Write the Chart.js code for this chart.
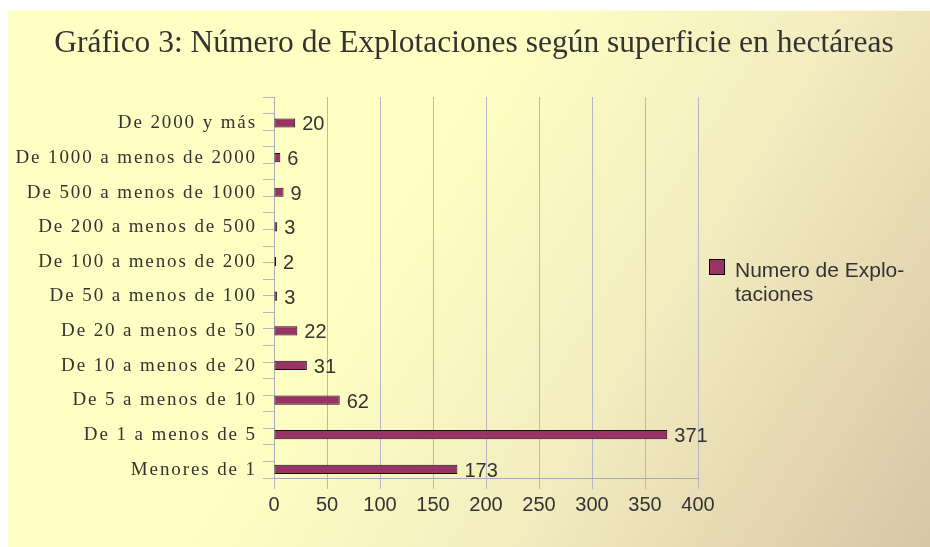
<!DOCTYPE html>
<html>
<head>
<meta charset="utf-8">
<script src="https://cdn.jsdelivr.net/npm/chart.js@4.4.1/dist/chart.umd.min.js"></script>
<style>
  html, body { margin: 0; padding: 0; background: #ffffff; overflow: hidden; }
  #wrap { position: relative; width: 930px; height: 547px; }
  #bg {
    position: absolute; left: 8px; top: 10px; right: 0; bottom: 0;
    border-left: 1px solid #ffffd6; border-top: 1px solid #ffffd6;
    background: linear-gradient(122deg, #ffffc3 0%, #ffffc3 40%, #f3edc0 66%, #d8c5a5 100%);
  }
  #reportChart { position: absolute; left: 0; top: 0; }
</style>
</head>
<body>
<div id="wrap">
  <div id="bg"></div>
  <canvas id="reportChart" width="930" height="547"></canvas>
</div>
<script>
const chartTitle = 'Gráfico 3: Número de Explotaciones según superficie en hectáreas';
const seriesName = ['Numero de Explo-', 'taciones'];

// size classes, smallest first (axis is reversed so they read bottom-up)
const sizeClasses = [
    'Menores de 1',
    'De 1 a menos de 5',
    'De 5 a menos de 10',
    'De 10 a menos de 20',
    'De 20 a menos de 50',
    'De 50 a menos de 100',
    'De 100 a menos de 200',
    'De 200 a menos de 500',
    'De 500 a menos de 1000',
    'De 1000 a menos de 2000',
    'De 2000 y más'
];
const farmCounts = [173, 371, 62, 31, 22, 3, 2, 3, 9, 6, 20];
const xTicks = [0, 50, 100, 150, 200, 250, 300, 350, 400];

const gridColor = '#b6b6c4';
const textColor = '#333333';
const barColor = '#993366';

// #### Plugins
// value labels next to each bar, plus title and legend
const valueLabels = {
    id: 'valueLabels',
    afterDatasetsDraw(chart) {
        const ctx = chart.ctx;
        const meta = chart.getDatasetMeta(1);
        ctx.save();
        ctx.letterSpacing = '0px';
        ctx.font = '20px "Liberation Sans", Arial, sans-serif';
        ctx.fillStyle = textColor;
        ctx.textAlign = 'left';
        ctx.textBaseline = 'middle';
        meta.data.forEach((bar, i) => {
            ctx.fillText(String(farmCounts[i]), bar.x + 7, bar.y + 2);
        });
        ctx.restore();
        // category labels (ticks z:1) are drawn after this, with wide spacing
        ctx.letterSpacing = '1.9px';
    },
    afterDraw(chart) {
        const ctx = chart.ctx;
        const area = chart.chartArea;
        ctx.save();
        ctx.letterSpacing = '0px';
        // title
        ctx.font = '31.5px "Liberation Serif", "Times New Roman", serif';
        ctx.fillStyle = textColor;
        ctx.textAlign = 'center';
        ctx.textBaseline = 'alphabetic';
        ctx.fillText(chartTitle, 474, 52);
        // legend
        const lx = area.right + 11;
        const ly = 259;
        ctx.fillStyle = barColor;
        ctx.fillRect(lx, ly, 16, 16);
        ctx.strokeStyle = '#000000';
        ctx.lineWidth = 1;
        ctx.strokeRect(lx + 0.5, ly + 0.5, 15, 15);
        ctx.font = '21px "Liberation Sans", Arial, sans-serif';
        ctx.fillStyle = textColor;
        ctx.textAlign = 'left';
        ctx.fillText(seriesName[0], lx + 26, 277);
        ctx.fillText(seriesName[1], lx + 26, 301);
        ctx.restore();
        ctx.letterSpacing = '0px';
    }
};

// #### Chart
const reportChart = new Chart(document.getElementById('reportChart').getContext('2d'), {
    type: 'bar',
    data: {
        labels: sizeClasses,
        datasets: [
            {
                // empty slot: the bars sit in the lower half of each row
                label: '',
                data: [],
                yAxisID: 'y'
            },
            {
                label: seriesName.join(''),
                data: farmCounts,
                yAxisID: 'y',
                backgroundColor: barColor,
                borderColor: '#111111',
                borderWidth: 1,
                borderSkipped: false,
                categoryPercentage: 1,
                barPercentage: 0.53
            }
        ]
    },
    options: {
        indexAxis: 'y',
        responsive: false,
        animation: false,
        devicePixelRatio: 1,
        layout: { padding: { top: 97, right: 232, bottom: 26, left: 0 } },
        scales: {
            x: {
                type: 'linear',
                min: 0,
                max: 400,
                afterBuildTicks: scale => { scale.ticks = xTicks.map(v => ({ value: v })); },
                ticks: {
                    color: textColor,
                    font: { family: '"Liberation Sans", Arial, sans-serif', size: 20 },
                    padding: 4,
                    maxRotation: 0
                },
                grid: { color: gridColor, tickLength: 11, tickColor: gridColor },
                border: { color: '#a8a8b6' }
            },
            y: {
                type: 'category',
                reverse: true,
                weight: 1,
                afterFit: scale => { scale.width = 263; },
                ticks: {
                    color: textColor,
                    font: { family: '"Liberation Serif", "Times New Roman", serif', size: 19 },
                    padding: 6,
                    labelOffset: 9,
                    z: 1,
                    autoSkip: false
                },
                grid: { display: false, drawTicks: false },
                border: { display: false }
            },
            // half-row tick marks along the category axis
            yt: {
                type: 'linear',
                position: 'left',
                weight: 0,
                min: 0,
                max: 22,
                ticks: { display: false, stepSize: 1 },
                grid: { drawOnChartArea: false, tickLength: 11, color: gridColor },
                border: { color: '#a8a8b6' }
            }
        },
        plugins: {
            legend: { display: false },
            title: { display: false },
            tooltip: { enabled: false }
        }
    },
    plugins: [valueLabels]
});
</script>
</body>
</html>
